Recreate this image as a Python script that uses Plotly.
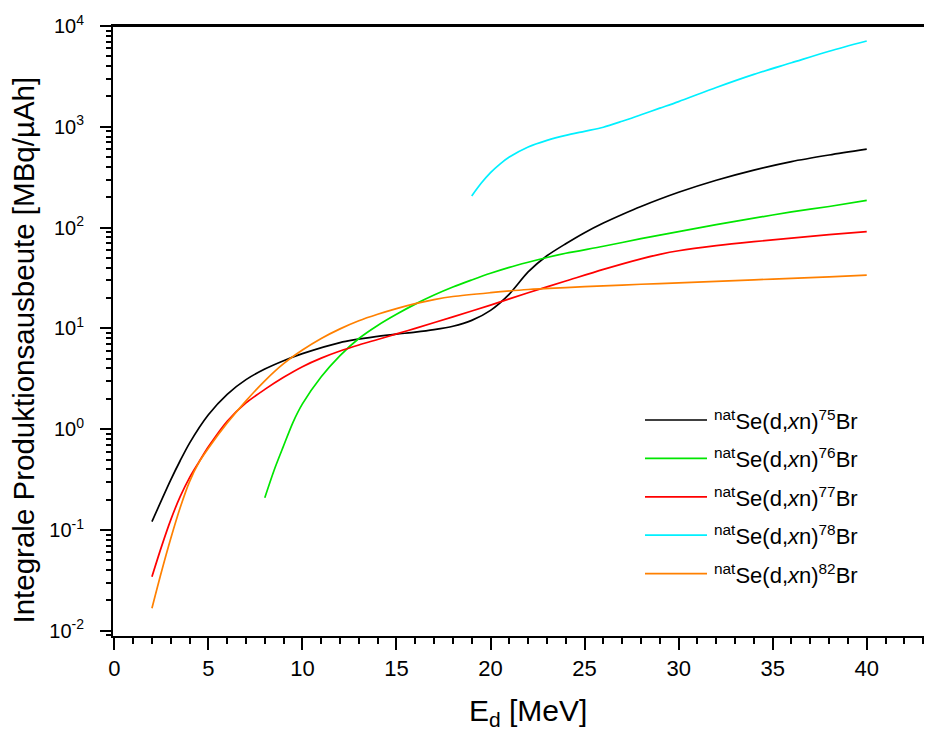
import plotly.graph_objects as go

# ---------------- data ----------------
E_75 = [2, 3, 3.5, 4, 5, 6, 7, 8, 9, 10, 12, 14, 15, 16, 17, 18, 19, 20, 21, 22, 23, 24, 25, 26, 27, 28, 30, 32, 34, 36, 38, 40]
Y_75 = [0.121, 0.314, 0.486, 0.728, 1.39, 2.22, 3.10, 3.95, 4.78, 5.61, 7.23, 8.32, 8.77, 9.18, 9.72, 10.5, 12.0, 15.1,
        21.9, 36.3, 52.5, 69.2, 89.1, 111, 135, 162, 224, 295, 372, 452, 525, 600]

E_76 = [8, 8.5, 9, 9.5, 10, 11, 12, 13, 14, 15, 16, 17, 18, 19, 20, 21, 22, 23, 24, 26, 28, 30, 32, 34, 36, 38, 40]
Y_76 = [0.209, 0.394, 0.684, 1.17, 1.78, 3.31, 5.37, 7.94, 10.7, 13.8, 17.4, 21.4, 25.7, 30.2, 35.2,
        40.3, 45.3, 50.5, 55.6, 65.3, 77.6, 91.2, 107, 124, 143, 162, 186]

E_77 = [2, 2.5, 3, 3.5, 4, 4.5, 5, 6, 7, 8, 9, 10, 11, 12, 13, 14, 15, 16, 18, 20, 22, 24, 26, 28, 29, 30, 32, 34, 36, 38, 40]
Y_77 = [0.0344, 0.0676, 0.126, 0.214, 0.331, 0.473, 0.668, 1.20, 1.82, 2.48, 3.27, 4.17, 5.07, 5.96, 6.84,
        7.76, 8.81, 10.0, 13.0, 17.0, 22.6, 29.5, 38.5, 49.0, 54.3, 58.9, 66.1, 72.4, 78.5, 85.1, 91.2]

E_78 = [19, 19.5, 20, 20.5, 21, 22, 23, 24, 25, 26, 27, 28, 29, 30, 32, 34, 36, 38, 40]
Y_78 = [206, 275, 351, 427, 501, 631, 733, 822, 902, 989, 1135, 1318, 1531, 1778, 2455, 3311, 4315, 5623, 7096]

E_82 = [2, 2.5, 3, 3.5, 4, 4.5, 5, 6, 7, 8, 9, 10, 11, 12, 13, 14, 15, 16, 17, 18, 20, 22, 24, 26, 28, 30, 32, 34, 36, 38, 40]
Y_82 = [0.0167, 0.0380, 0.0822, 0.166, 0.302, 0.468, 0.646, 1.15, 1.91, 3.02, 4.47, 6.10, 7.94, 9.89, 11.9,
        13.8, 15.7, 17.6, 19.3, 20.7, 22.6, 24.3, 25.4, 26.4, 27.4, 28.3, 29.3, 30.3, 31.4, 32.5, 33.7]

series_x = [E_75, E_76, E_77, E_78, E_82]
series_y = [Y_75, Y_76, Y_77, Y_78, Y_82]
mass_numbers = ["75", "76", "77", "78", "82"]
colors = ["#000000", "#00e600", "#ff0000", "#00f0ff", "#ff8000"]

x_tickvals = [0, 5, 10, 15, 20, 25, 30, 35, 40]
y_tickvals = [1e-2, 1e-1, 1e0, 1e1, 1e2, 1e3, 1e4]
y_ticktext = ["10<sup>-2</sup>", "10<sup>-1</sup>", "10<sup>0</sup>", "10<sup>1</sup>",
              "10<sup>2</sup>", "10<sup>3</sup>", "10<sup>4</sup>"]

# ---------------- figure ----------------
FONT = "Liberation Sans, Arial, sans-serif"
OFF = 8                      # default page (body) margin of the html page
W, H = 932 - OFF, 731 - OFF
# plot area in screen pixels: left 113, right 932, top 26, bottom 636
ML, MT = 113 - OFF, 26 - OFF
MR, MB = 0, H - (636 - OFF)
PW, PH = W - ML - MR, H - MT - MB


def px(sx):
    return (sx - OFF - ML) / PW


def py(sy):
    return (MT + PH - (sy - OFF)) / PH


fig = go.Figure()
for xs, ys, c, m in zip(series_x, series_y, colors, mass_numbers):
    fig.add_trace(go.Scatter(
        x=xs, y=ys, mode="lines",
        line=dict(color=c, width=1.7, shape="spline", smoothing=0.8),
        name=m, showlegend=False, hoverinfo="skip"))

minor_x = [v for v in range(0, 44)]
minor_y = [k * 10.0 ** e for e in range(-3, 4) for k in range(2, 10) if 0.0088 < k * 10.0 ** e < 1e4]

fig.update_xaxes(
    range=[-0.07, 43.47], showgrid=False, zeroline=False, automargin=False,
    showline=True, linewidth=2, linecolor="black", mirror=True,
    tickmode="array", tickvals=x_tickvals,
    ticks="outside", ticklen=12, tickwidth=2, tickcolor="black",
    tickfont=dict(family=FONT, size=22, color="black"),
    minor=dict(tickmode="array", tickvals=minor_x, ticks="outside",
               ticklen=6, tickwidth=1.5, tickcolor="black", showgrid=False),
)
fig.update_yaxes(
    type="log", range=[-2.052, 4], showgrid=False, zeroline=False, automargin=False,
    showline=True, linewidth=2, linecolor="black", mirror=False,
    tickmode="array", tickvals=y_tickvals, ticktext=y_ticktext,
    ticks="outside", ticklen=11, tickwidth=2, tickcolor="black",
    ticklabelstandoff=12,
    tickfont=dict(family=FONT, size=20, color="black"),
    minor=dict(tickmode="array", tickvals=minor_y, ticks="outside",
               ticklen=5, tickwidth=1.5, tickcolor="black", showgrid=False),
)

annotations = [
    dict(text="Integrale Produktionsausbeute [MBq/µAh]", textangle=-90,
         xref="paper", yref="paper", x=px(23), y=py(350.5),
         xanchor="center", yanchor="middle", showarrow=False,
         font=dict(family=FONT, size=29.5, color="black")),
    dict(text="E<sub>d</sub> [MeV]",
         xref="paper", yref="paper", x=px(527.5), y=py(712),
         xanchor="center", yanchor="middle", showarrow=False,
         font=dict(family=FONT, size=30, color="black")),
]
# top frame line
shapes = [dict(type="line", xref="paper", yref="paper", x0=0, x1=1, y0=1, y1=1,
               line=dict(color="black", width=2), layer="above")]
# manual legend
leg_y0, leg_dy = 420, 38.4
for i, (c, m) in enumerate(zip(colors, mass_numbers)):
    yy = py(leg_y0 + i * leg_dy)
    shapes.append(dict(type="line", xref="paper", yref="paper",
                       x0=px(645), x1=px(707), y0=yy, y1=yy,
                       line=dict(color=c, width=1.7)))
    annotations.append(dict(
        text="<sup>nat</sup>Se(d,<i>x</i>n)<sup>" + m + "</sup>Br",
        xref="paper", yref="paper", x=px(712), y=yy,
        xanchor="left", yanchor="middle", showarrow=False,
        font=dict(family=FONT, size=22, color="black")))

fig.update_layout(
    width=W, height=H, margin=dict(l=ML, r=MR, t=MT, b=MB, autoexpand=False),
    plot_bgcolor="white", paper_bgcolor="white",
    annotations=annotations, shapes=shapes, showlegend=False,
)

fig.write_html("out.html")
